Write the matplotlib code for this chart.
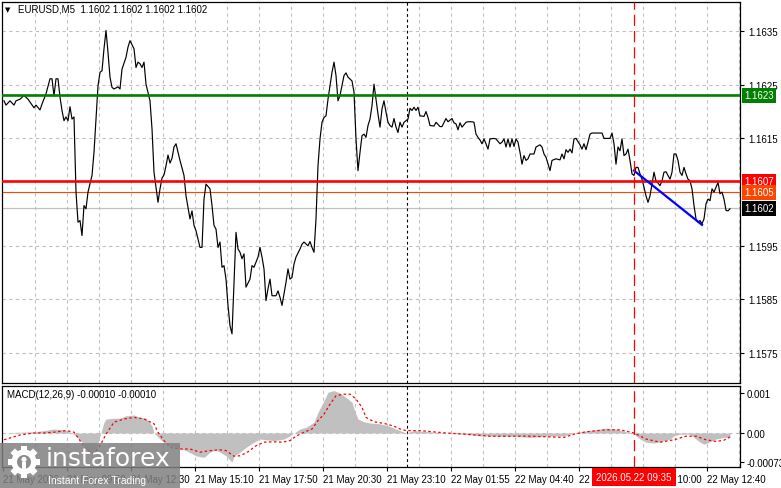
import numpy as np
import matplotlib
matplotlib.use('Agg')
import matplotlib.pyplot as plt
import matplotlib.transforms as mtransforms
from matplotlib.patches import Rectangle, Circle

# close prices, (bar index, price), 5-minute bars
seg_a = [(1, 1.16220), (2, 1.16212), (4, 1.16220), (6, 1.16212), (7, 1.16220), (9, 1.16223),
         (11, 1.16230), (13, 1.16223), (16, 1.16207), (17, 1.16212), (19, 1.16203), (20, 1.16214),
         (22, 1.16233), (24, 1.16261), (25, 1.16261), (26, 1.16229), (27, 1.16261), (28, 1.16261),
         (29, 1.16227), (30, 1.16202), (31, 1.16183), (32, 1.16190), (33, 1.16183), (34, 1.16209),
         (35, 1.16186), (36, 1.16190), (37, 1.16050), (38, 1.15994), (39, 1.15997), (40, 1.15969),
         (41, 1.16025), (42, 1.16019), (43, 1.16050), (45, 1.16081), (46, 1.16124), (47, 1.16186),
         (48, 1.16248), (49, 1.16273), (50, 1.16276), (51, 1.16317), (52, 1.16351), (53, 1.16310),
         (54, 1.16264), (55, 1.16245), (56, 1.16242), (58, 1.16246), (59, 1.16242), (60, 1.16279),
         (62, 1.16301), (63, 1.16320), (64, 1.16332), (66, 1.16317), (67, 1.16282), (68, 1.16292),
         (69, 1.16289), (70, 1.16282), (71, 1.16292), (72, 1.16251), (74, 1.16220), (75, 1.16168),
         (76, 1.16087), (78, 1.16031), (79, 1.16056), (80, 1.16076), (81, 1.16082), (82, 1.16099),
         (83, 1.16119), (84, 1.16104), (85, 1.16113), (86, 1.16134), (87, 1.16140), (89, 1.16109)]
seg_b = [(91, 1.16081), (92, 1.16043), (94, 1.16000), (95, 1.16015), (96, 1.15988), (97, 1.15978),
         (99, 1.15947), (100, 1.15947), (101, 1.16037), (102, 1.16065), (104, 1.16056), (105, 1.16025),
         (106, 1.15988), (107, 1.15981), (108, 1.15947), (109, 1.15957), (110, 1.15910), (111, 1.15913),
         (112, 1.15888), (113, 1.15839), (114, 1.15801), (115, 1.15786), (116, 1.15882), (117, 1.15975),
         (118, 1.15944), (119, 1.15938), (120, 1.15926), (121, 1.15935), (122, 1.15873), (124, 1.15888),
         (125, 1.15913), (126, 1.15910), (128, 1.15929), (129, 1.15947), (130, 1.15929), (131, 1.15907),
         (132, 1.15848), (133, 1.15870), (134, 1.15888), (135, 1.15857), (137, 1.15857), (138, 1.15866),
         (139, 1.15854), (140, 1.15839), (141, 1.15860), (142, 1.15882), (143, 1.15907), (144, 1.15888),
         (145, 1.15891), (146, 1.15916), (147, 1.15929), (149, 1.15944), (150, 1.15953), (151, 1.15957),
         (153, 1.15950), (154, 1.15958), (155, 1.15947), (156, 1.15938), (157, 1.16000), (158, 1.16099),
         (159, 1.16149), (160, 1.16180), (161, 1.16189), (162, 1.16192), (163, 1.16223), (164, 1.16248),
         (165, 1.16273), (166, 1.16292), (167, 1.16267), (168, 1.16220), (169, 1.16230), (170, 1.16248),
         (171, 1.16267), (172, 1.16272), (173, 1.16264), (175, 1.16257), (176, 1.16236), (177, 1.16149),
         (178, 1.16090), (179, 1.16124), (180, 1.16155), (181, 1.16158), (182, 1.16152), (183, 1.16174),
         (184, 1.16186), (185, 1.16211)]
seg_c = [(186, 1.16251), (187, 1.16223), (188, 1.16195), (189, 1.16171), (190, 1.16205), (191, 1.16220),
         (192, 1.16199), (193, 1.16180), (194, 1.16174), (195, 1.16171), (196, 1.16187), (197, 1.16171),
         (198, 1.16161), (199, 1.16180), (200, 1.16171), (201, 1.16180), (203, 1.16186), (204, 1.16206),
         (205, 1.16202), (206, 1.16208), (207, 1.16202), (208, 1.16208), (209, 1.16192), (211, 1.16191),
         (212, 1.16200), (213, 1.16189), (214, 1.16174), (216, 1.16173), (217, 1.16180), (219, 1.16172),
         (220, 1.16172), (222, 1.16187), (223, 1.16181), (225, 1.16187), (226, 1.16179), (227, 1.16177),
         (228, 1.16166), (229, 1.16179), (230, 1.16171), (232, 1.16180), (233, 1.16181), (235, 1.16181),
         (236, 1.16180), (237, 1.16158), (238, 1.16152), (239, 1.16147), (240, 1.16140), (241, 1.16149),
         (242, 1.16140), (243, 1.16130), (244, 1.16149), (246, 1.16150), (247, 1.16149), (249, 1.16140),
         (250, 1.16143), (251, 1.16149), (252, 1.16134), (253, 1.16149), (254, 1.16134), (255, 1.16149),
         (256, 1.16135), (257, 1.16149), (258, 1.16143), (259, 1.16124), (260, 1.16102), (261, 1.16118),
         (262, 1.16109), (263, 1.16112), (264, 1.16121), (266, 1.16121), (267, 1.16134), (269, 1.16138),
         (270, 1.16134), (271, 1.16121), (272, 1.16115), (274, 1.16090)]
seg_d = [(275, 1.16109), (277, 1.16112), (279, 1.16110), (280, 1.16121), (281, 1.16112), (282, 1.16129),
         (283, 1.16124), (284, 1.16130), (285, 1.16123), (286, 1.16149), (287, 1.16150), (289, 1.16138),
         (290, 1.16130), (291, 1.16140), (292, 1.16129), (293, 1.16143), (294, 1.16158), (295, 1.16160),
         (300, 1.16160), (301, 1.16150), (304, 1.16150), (305, 1.16160), (306, 1.16140), (307, 1.16102),
         (308, 1.16134), (309, 1.16127), (310, 1.16149), (311, 1.16118), (312, 1.16121), (313, 1.16130),
         (314, 1.16109), (315, 1.16084), (316, 1.16081), (317, 1.16096), (318, 1.16096), (319, 1.16084),
         (320, 1.16074), (321, 1.16059), (322, 1.16043), (323, 1.16031), (324, 1.16043), (325, 1.16065),
         (326, 1.16087), (327, 1.16071), (328, 1.16067), (329, 1.16062), (330, 1.16071), (331, 1.16087),
         (332, 1.16088), (334, 1.16074), (335, 1.16087), (336, 1.16121), (337, 1.16121), (338, 1.16109),
         (339, 1.16087), (340, 1.16081), (341, 1.16096), (342, 1.16084), (343, 1.16074), (344, 1.16071),
         (345, 1.16056), (346, 1.16025), (347, 1.16000), (348, 1.15994), (349, 1.15997), (350, 1.15991),
         (351, 1.16000), (352, 1.16028), (353, 1.16037), (354, 1.16034), (355, 1.16056), (356, 1.16050),
         (357, 1.16059), (358, 1.16068), (359, 1.16047), (360, 1.16050), (361, 1.16037), (362, 1.16016),
         (363, 1.16015), (364, 1.16019)]

# MACD histogram and signal line
hist_bar = [1, 9, 16, 21, 26, 31, 34, 37, 40, 42, 45, 47, 49, 51, 52, 56, 59, 62, 66, 69, 72, 75, 76,
            79, 82, 87, 92, 97, 101, 104, 107, 112, 115, 116, 119, 122, 126, 129, 132, 136, 141, 144,
            146, 149, 152, 156, 158, 161, 163, 166, 169, 172, 175, 176, 178, 181, 184, 189, 193, 197,
            202, 206, 214, 222, 231, 239, 247, 256, 264, 272, 281, 286, 289, 296, 302, 307, 312, 316,
            319, 322, 326, 329, 334, 336, 339, 344, 346, 349, 351, 354, 357, 361, 364]
hist_val = [0, 0.00002, 0.00003, 0.00006, 0.00010, 0.00008, 0.00002, -0.00007, -0.00023, -0.00040,
            -0.00053, -0.00044, -0.00007, 0.00027, 0.00035, 0.00037, 0.00037, 0.00043, 0.00045, 0.00039,
            0.00037, 0.00018, 0, -0.00015, -0.00028, -0.00036, -0.00044, -0.00057, -0.00061, -0.00048,
            -0.00042, -0.00057, -0.00073, -0.00057, -0.00048, -0.00036, -0.00023, -0.00015, -0.00017,
            -0.00019, -0.00015, -0.00007, 0, 0.00010, 0.00014, 0.00027, 0.00052, 0.00081, 0.00102,
            0.00106, 0.00100, 0.00089, 0.00077, 0.00060, 0.00035, 0.00028, 0.00025, 0.00023, 0.00018,
            0.00010, 0, 0.00006, 0.00003, 0, -0.00003, -0.00007, -0.00008, -0.00008, -0.00011, -0.00008,
            -0.00007, 0, 0.00003, 0.00008, 0.00012, 0.00010, 0.00003, -0.00003, -0.00015, -0.00023,
            -0.00025, -0.00022, -0.00015, -0.00007, -0.00003, -0.00003, -0.00011, -0.00023, -0.00028,
            -0.00022, -0.00015, -0.00011, -0.00010]
sig_bar = [1, 9, 16, 21, 26, 32, 36, 39, 42, 46, 49, 52, 56, 61, 66, 71, 76, 78, 81, 84, 89, 94, 99,
           104, 109, 112, 116, 119, 123, 127, 131, 136, 140, 144, 147, 151, 155, 158, 161, 164, 167,
           171, 174, 177, 180, 182, 186, 191, 196, 199, 202, 209, 222, 232, 244, 256, 264, 281, 286,
           292, 302, 309, 316, 322, 329, 336, 342, 347, 352, 357, 361, 364]
sig_val = [-0.00017, -0.00005, 0, 0, 0.00002, 0.00006, 0.00002, -0.00019, -0.00040, -0.00053,
           -0.00032, -0.00003, 0.00027, 0.00035, 0.00039, 0.00035, 0.00023, 0.00002, -0.00019, -0.00036,
           -0.00040, -0.00040, -0.00048, -0.00044, -0.00042, -0.00044, -0.00058, -0.00057, -0.00047,
           -0.00032, -0.00023, -0.00022, -0.00023, -0.00019, -0.00008, 0.00002, 0.00010, 0.00031,
           0.00047, 0.00072, 0.00093, 0.00097, 0.00097, 0.00085, 0.00064, 0.00039, 0.00028, 0.00024,
           0.00017, 0.00010, 0.00006, 0.00006, 0, -0.00003, -0.00008, -0.00008, -0.00008, -0.00011,
           -0.00003, 0.00003, 0.00008, 0.00008, 0, -0.00015, -0.00023, -0.00017, -0.00008, -0.00008,
           -0.00017, -0.00021, -0.00018, -0.00010]

level_support = 1.1623
level_red = 1.1607
level_orange = 1.1605
last_price = 1.1602
trend_bar = [316, 350]
trend_price = [1.16090, 1.15989]

price_ticks = [1.1635, 1.1625, 1.1615, 1.1595, 1.1585, 1.1575]
time_labels = ['21 May 2026', '21 May 09:50', '21 May 12:30', '21 May 15:10', '21 May 17:50',
               '21 May 20:30', '21 May 23:10', '22 May 01:55', '22 May 04:40', '22 May 07:25',
               '22 May 10:00', '22 May 12:40']
sep_bar = 202.5
cursor_bar = 316
cursor_label = '2026.05.22 09:35'

price_bars = [p[0] for p in seg_a + seg_b + seg_c + seg_d]
price_vals = [p[1] for p in seg_a + seg_b + seg_c + seg_d]

plt.rcParams['font.family'] = ['Liberation Sans', 'DejaVu Sans']
FS = 7.0
W, H = 781, 489
GRID = '#c0c0c0'


def px_rect(x0, y0, x1, y1):
    return [x0 / W, 1 - y1 / H, (x1 - x0) / W, (y1 - y0) / H]


fig = plt.figure(figsize=(W / 100, H / 100), dpi=100)
ax = fig.add_axes(px_rect(2, 3, 740, 384))
ax2 = fig.add_axes(px_rect(2, 387, 740, 468))

# %% main price panel
ax.set_xlim(0, 369)
ax.set_ylim(1.156945, 1.16404)
for y in np.arange(1.1575, 1.1640, 0.001):
    ax.axhline(y, color=GRID, lw=0.8, ls=(0, (3, 3)), zorder=0)
for b in np.arange(16.5, 369, 16):
    ax.axvline(b, color=GRID, lw=0.8, ls=(0, (3, 3)), zorder=0)
    ax2.axvline(b, color=GRID, lw=0.8, ls=(0, (3, 3)), zorder=0)

ax.axhline(last_price, color='#c0c0c0', lw=0.9, zorder=1)
ax.axhline(level_orange, color='#ff4500', lw=0.8, zorder=1)
ax.plot(price_bars, price_vals, color='black', lw=0.85, zorder=2)
ax.axhline(level_support, color='#008000', lw=1.9, zorder=3)
ax.axhline(level_red, color='#ff0000', lw=1.9, zorder=3)
ax.plot(trend_bar, trend_price, color='#0000ff', lw=1.6, zorder=4)

for a in (ax, ax2):
    a.axvline(sep_bar, color='black', lw=0.8, ls=(0, (2.5, 2.5)), zorder=1)
    a.axvline(cursor_bar, color='#ff0000', lw=0.9, ls=(0, (9, 4)), zorder=5)
    for s in a.spines.values():
        s.set_linewidth(0.9)
        s.set_color('black')

ax.set_xticks([])
ax.yaxis.tick_right()
ax.set_yticks(price_ticks)
ax.set_yticklabels([f'{t:.4f}' for t in price_ticks])
ax.tick_params(axis='y', length=3, width=0.8, pad=3, labelsize=FS)

yb = mtransforms.blended_transform_factory(ax.transAxes, ax.transData)
for lvl, col in [(level_support, '#008000'), (level_red, '#ff0000'),
                 (level_orange, '#ff4500'), (last_price, 'black')]:
    ax.text(1.0055, lvl, f'{lvl:.4f}', transform=yb, fontsize=FS, color='white',
            ha='left', va='center', clip_on=False, zorder=10,
            bbox=dict(boxstyle='square,pad=0.25', fc=col, ec='none'))

ax.text(0.004, 0.982, '\u25bc', transform=ax.transAxes, fontsize=5, va='center',
        family='DejaVu Sans')
ax.text(0.0215, 0.982, 'EURUSD,M5  1.1602 1.1602 1.1602 1.1602', transform=ax.transAxes,
        fontsize=FS, va='center')

# %% MACD panel
ax2.set_xlim(0, 369)
ax2.set_ylim(-0.00085, 0.001175)
ax2.axhline(0, color=GRID, lw=0.8, ls=(0, (3, 3)), zorder=0)
ax2.fill_between(hist_bar, 0, hist_val, color='#c0c0c0', lw=0, zorder=1)
ax2.plot(sig_bar, sig_val, color='#ff0000', lw=0.9, ls=(0, (2, 2)), zorder=3)
ax2.yaxis.tick_right()
ax2.set_yticks([0.001, 0.0, -0.00073])
ax2.set_yticklabels(['0.001', '0.00', '-0.00073'])
ax2.set_xticks([0.5 + 32 * i for i in range(len(time_labels))])
ax2.set_xticklabels(time_labels)
for t in ax2.get_xticklabels():
    t.set_ha('left')
ax2.tick_params(axis='both', length=3, width=0.8, pad=2, labelsize=FS)
ax2.text(0.007, 0.9, 'MACD(12,26,9) -0.00010 -0.00010', transform=ax2.transAxes,
         fontsize=FS, va='center')
xb = mtransforms.blended_transform_factory(ax2.transData, ax2.transAxes)
ax2.text(cursor_bar, -0.125, cursor_label, transform=xb, fontsize=FS, color='white',
         ha='center', va='center', clip_on=False, zorder=10,
         bbox=dict(boxstyle='square,pad=0.4', fc='#ff0000', ec='none'))

# %% watermark
lax = fig.add_axes([0, 0, 1, 1])
lax.set_xlim(0, W)
lax.set_ylim(H, 0)
lax.axis('off')
lax.set_zorder(20)
lax.add_patch(Rectangle((0, 444), 180, 45, fc='#808080', ec='none', alpha=0.85))
cx, cy = 24, 463
for ang in range(0, 180, 45):
    lax.add_patch(Rectangle((cx - 3.2, cy - 16), 6.4, 32, angle=ang, rotation_point='center',
                            fc='white', ec='none'))
lax.add_patch(Circle((cx, cy), 12.5, fc='white', ec='none'))
lax.add_patch(Circle((cx, cy), 7, fc='#8c8c8c', ec='none'))
lax.add_patch(Circle((cx, cy - 2.5), 2.6, fc='white', ec='none'))
lax.add_patch(Rectangle((cx - 2, cy), 4, 9, fc='white', ec='none'))
lax.text(46, 459, 'instaforex', color='white', fontsize=18, va='center', ha='left',
         family='DejaVu Sans')
lax.text(48, 481.5, 'Instant Forex Trading', color='white', fontsize=7.5, va='center', ha='left')

fig.savefig('out.png', dpi=100)
